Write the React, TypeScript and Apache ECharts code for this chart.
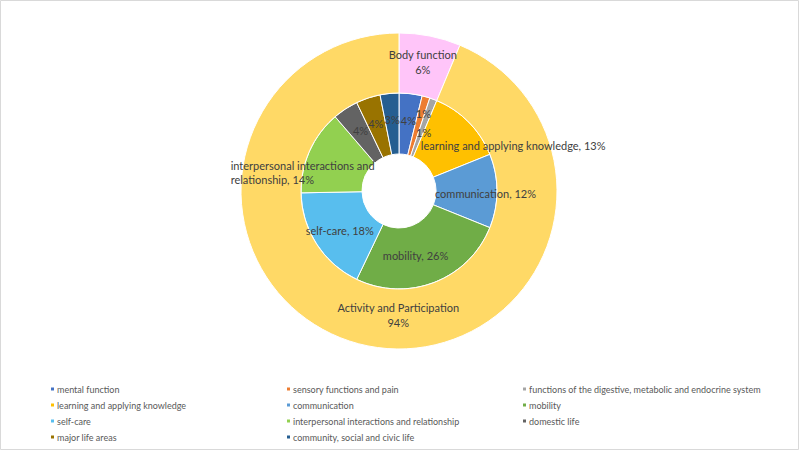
import React, { useEffect, useRef } from "react";
import * as echarts from "echarts";

const innerNames = [
  "mental function",
  "sensory functions and pain",
  "functions of the digestive, metabolic and endocrine system",
  "learning and applying knowledge",
  "communication",
  "mobility",
  "self-care",
  "interpersonal interactions and relationship",
  "domestic life",
  "major life areas",
  "community, social and civic life",
];
const innerValues = [3.8, 1.3, 1.2, 12.6, 12.2, 26.0, 17.6, 14.0, 4.2, 4.0, 3.1];
const innerColors = [
  "#4472C4", "#ED7D31", "#A5A5A5", "#FFC000", "#5B9BD5", "#70AD47",
  "#58BEEE", "#92D050", "#636363", "#997300", "#255E91",
];
const outerNames = ["Body function", "Activity and Participation"];
const outerValues = [6.3, 93.7];
const outerColors = ["#FFC5F9", "#FFD966"];

// label nudges (dx, dy) per inner slice, matching the reference placement
const innerLabelNudge: [number, number][] = [
  [1, -1], [5, -10], [0, 8], [64, 4], [16, 2], [-9, -1],
  [0, 1], [-104, 10], [0, -1], [-1, -1], [0, -1],
];
const outerLabelNudge: [number, number][] = [[-2, -1], [25, -4]];

const legendColumns = [
  [0, 3, 6, 9],
  [1, 4, 7, 10],
  [2, 5, 8],
];
const legendLefts = [49, 285, 521];

const FONT = "Lato, 'Liberation Sans', sans-serif";

export default function App() {
  const ref = useRef<HTMLDivElement>(null);
  useEffect(() => {
    if (!ref.current) return;
    const chart = echarts.init(ref.current, undefined, { renderer: "svg" });
    const option: any = {
      animation: false,
      backgroundColor: "#ffffff",
      graphic: [
        {
          type: "rect",
          shape: { x: 0.5, y: 0.5, width: 798, height: 449 },
          style: { fill: "none", stroke: "#D9D9D9", lineWidth: 1 },
          silent: true,
        },
      ],
      legend: legendColumns.map((col, i) => ({
        orient: "vertical",
        left: legendLefts[i],
        top: 383,
        padding: 0,
        itemWidth: 5,
        itemHeight: 5,
        itemGap: 4,
        icon: "rect",
        selectedMode: false,
        data: col.map((k) => innerNames[k]),
        textStyle: {
          fontFamily: FONT,
          fontSize: 9,
          color: "#595959",
          lineHeight: 12,
          padding: [0, 0, 0, -3],
        },
      })),
      series: [
        {
          type: "pie",
          name: "inner",
          center: [399, 191],
          radius: [37, 98],
          startAngle: 90,
          clockwise: true,
          itemStyle: { borderColor: "#ffffff", borderWidth: 1 },
          label: {
            show: true,
            position: "inside",
            fontFamily: FONT,
            fontSize: 11,
            color: "#404040",
            lineHeight: 14,
            formatter: (p: any) => {
              const pct = Math.round(p.percent) + "%";
              if (p.percent < 10) return pct;
              const name =
                p.dataIndex === 7 ? p.name.replace(/ (\S+)$/, "\n$1") : p.name;
              return name + ", " + pct;
            },
          },
          labelLayout: (p: any) => {
            const n = innerLabelNudge[p.dataIndex];
            const r: any = { dx: n[0], dy: n[1] };
            if (p.dataIndex === 7) r.align = "left";
            return r;
          },
          data: innerNames.map((name, i) => ({
            name,
            value: innerValues[i],
            itemStyle: { color: innerColors[i] },
            label: i === 7 ? { align: "left" } : undefined,
          })),
        },
        {
          type: "pie",
          name: "outer",
          center: [399, 191],
          radius: [98, 158],
          startAngle: 90,
          clockwise: true,
          itemStyle: { borderColor: "#ffffff", borderWidth: 1 },
          label: {
            show: true,
            position: "inside",
            fontFamily: FONT,
            fontSize: 11,
            color: "#404040",
            lineHeight: 15,
            formatter: (p: any) => p.name + "\n" + Math.round(p.percent) + "%",
          },
          labelLayout: (p: any) => {
            const n = outerLabelNudge[p.dataIndex];
            return { dx: n[0], dy: n[1] };
          },
          data: outerNames.map((name, i) => ({
            name,
            value: outerValues[i],
            itemStyle: { color: outerColors[i] },
          })),
        },
      ],
    };
    chart.setOption(option);
    return () => chart.dispose();
  }, []);
  return (
    <div
      ref={ref}
      style={{ position: "fixed", left: 0, top: 0, width: 799, height: 450 }}
    />
  );
}
